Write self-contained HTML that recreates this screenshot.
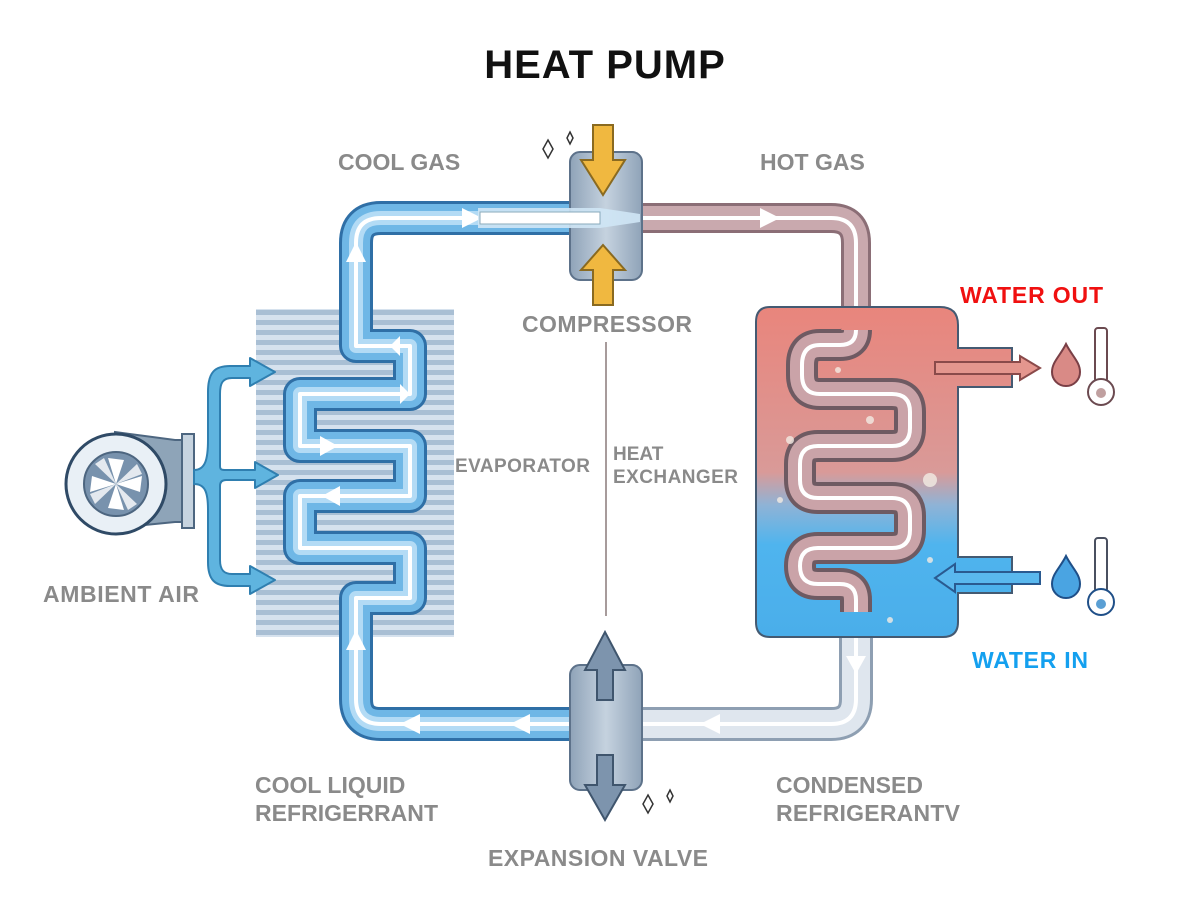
<!DOCTYPE html>
<html><head><meta charset="utf-8"><style>
html,body{margin:0;padding:0;background:#fff;}
svg{display:block;}
text{font-family:"Liberation Sans",sans-serif;font-weight:bold;}
</style></head><body>
<svg width="1200" height="915" viewBox="0 0 1200 915" xmlns="http://www.w3.org/2000/svg">
<defs>
<linearGradient id="tank" x1="0" y1="0" x2="0" y2="1">
<stop offset="0" stop-color="#e9857c"/><stop offset="0.5" stop-color="#d99a98"/><stop offset="0.6" stop-color="#8fb3d6"/><stop offset="0.72" stop-color="#4fb4ee"/><stop offset="1" stop-color="#4aaeea"/>
</linearGradient>
<linearGradient id="cyl" x1="0" y1="0" x2="1" y2="0">
<stop offset="0" stop-color="#8fa3b8"/><stop offset="0.5" stop-color="#c5d2df"/><stop offset="1" stop-color="#8fa3b8"/>
</linearGradient>
<pattern id="fins" width="10" height="10" patternUnits="userSpaceOnUse">
<rect width="10" height="10" fill="#d6e2ee"/><rect y="0" width="10" height="5" fill="#a9bfd4"/>
</pattern>
</defs>

<text x="605" y="78" text-anchor="middle" font-size="40" fill="#111" style="font-weight:900;letter-spacing:1px">HEAT PUMP</text>

<rect x="256" y="309" width="198" height="328" fill="url(#fins)"/>

<!-- fan -->
<path d="M115,432 L175,440 L188,440 L188,522 L175,522 L115,528 Z" fill="#8ea4b8" stroke="#4d6680" stroke-width="2"/>
<rect x="182" y="434" width="12" height="94" fill="#c6d3df" stroke="#4d6680" stroke-width="2"/>
<circle cx="116" cy="484" r="50" fill="#e9f0f6" stroke="#2f4a66" stroke-width="3"/>
<circle cx="116" cy="484" r="32" fill="#7892ad" stroke="#4d6680" stroke-width="2"/>
<g fill="#fff">
<path d="M116,484 L108,458 L124,460 Z"/><path d="M116,484 L142,476 L140,492 Z"/><path d="M116,484 L124,510 L108,508 Z"/><path d="M116,484 L90,492 L92,476 Z"/>
<path d="M116,484 L137,464 L142,474 Z" opacity=".8"/><path d="M116,484 L95,504 L90,494 Z" opacity=".8"/>
<path d="M116,484 L137,504 L128,510 Z" opacity=".8"/><path d="M116,484 L95,464 L104,458 Z" opacity=".8"/>
</g>
<g fill="#5fb4df" stroke="#2f7fb0" stroke-width="2" stroke-linejoin="round">
<path d="M194,470 C205,470 208,460 208,440 L208,392 C208,372 215,366 230,366 L250,366 L250,358 L275,372 L250,386 L250,378 L232,378 C222,378 220,384 220,394 L220,466 C220,470 222,470 226,470 L255,470 L255,462 L278,475 L255,488 L255,480 L226,480 C222,480 220,482 220,486 L220,560 C220,570 224,574 232,574 L250,574 L250,566 L275,580 L250,594 L250,586 L230,586 C215,586 208,580 208,562 L208,510 C208,492 205,484 194,484 Z"/>
</g>

<g fill="none" stroke-linejoin="round" stroke-linecap="butt">
<!-- right & bottom-right gray -->
<path d="M856,610 V699 Q856,724 831,724 H600" stroke="#8e9fb2" stroke-width="34"/>
<path d="M856,610 V699 Q856,724 831,724 H600" stroke="#dfe6ee" stroke-width="28"/>
<path d="M856,610 V699 Q856,724 831,724 H600" stroke="#fff" stroke-width="4"/>
<!-- evaporator loop -->
<path d="M600,724 H381 Q356,724 356,699 V598 H410 V548 H300 V496 H410 V446 H300 V394 H410 V346 H356 V243 Q356,218 381,218 H600" stroke="#2f6fa6" stroke-width="34"/>
<path d="M600,724 H381 Q356,724 356,699 V598 H410 V548 H300 V496 H410 V446 H300 V394 H410 V346 H356 V243 Q356,218 381,218 H600" stroke="#6fb7e6" stroke-width="28"/>
<path d="M600,724 H381 Q356,724 356,699 V598 H410 V548 H300 V496 H410 V446 H300 V394 H410 V346 H356 V243 Q356,218 381,218 H600" stroke="#b3dbf5" stroke-width="14"/>
<path d="M600,724 H381 Q356,724 356,699 V598 H410 V548 H300 V496 H410 V446 H300 V394 H410 V346 H356 V243 Q356,218 381,218 H600" stroke="#fff" stroke-width="4"/>
<!-- top hot -->
<path d="M600,218 H831 Q856,218 856,243 V330" stroke="#8b6e76" stroke-width="30"/>
<path d="M600,218 H831 Q856,218 856,243 V330" stroke="#c9a9ae" stroke-width="24"/>
<path d="M600,218 H831 Q856,218 856,243 V330" stroke="#fff" stroke-width="4"/>
</g>
<g fill="#fff">
<polygon points="462,208 482,218 462,228"/><polygon points="760,208 780,218 760,228"/>
<polygon points="846,312 856,330 866,312"/><polygon points="346,262 356,242 366,262"/>
<polygon points="346,650 356,630 366,650"/><polygon points="420,714 400,724 420,734"/>
<polygon points="530,714 510,724 530,734"/><polygon points="720,714 700,724 720,734"/>
<polygon points="846,656 856,674 866,656"/>
<polygon points="340,486 322,496 340,506"/><polygon points="320,436 338,446 320,456"/>
<polygon points="400,336 390,346 400,356"/><polygon points="400,384 410,394 400,404"/>
</g>

<!-- tank -->
<path d="M770,307 H940 Q958,307 958,325 V348 H1012 V387 H958 V557 H1012 V593 H958 V622 Q958,637 943,637 H770 Q756,637 756,622 V322 Q756,307 770,307 Z" fill="url(#tank)" stroke="#445a72" stroke-width="2"/>
<path d="M935,362 H1020 V356 L1040,368 L1020,380 V374 H935 Z" fill="#e4968e" stroke="#8a4a4a" stroke-width="2"/>
<path d="M1040,572 H955 V564 L935,578 L955,592 V584 H1040 Z" fill="#5ab8ee" stroke="#2a5a90" stroke-width="2"/>
<g fill="none" stroke-linejoin="round">
<path d="M856,330 Q856,345 840,345 H820 Q802,345 802,365 V375 Q802,394 820,394 H892 Q910,394 910,412 V428 Q910,446 892,446 H818 Q800,446 800,464 V480 Q800,498 818,498 H892 Q910,498 910,516 V530 Q910,548 892,548 H818 Q800,548 800,566 Q800,584 818,584 H840 Q856,584 856,600 V612" stroke="#6e5a62" stroke-width="32"/>
<path d="M856,330 Q856,345 840,345 H820 Q802,345 802,365 V375 Q802,394 820,394 H892 Q910,394 910,412 V428 Q910,446 892,446 H818 Q800,446 800,464 V480 Q800,498 818,498 H892 Q910,498 910,516 V530 Q910,548 892,548 H818 Q800,548 800,566 Q800,584 818,584 H840 Q856,584 856,600 V612" stroke="#caa3a8" stroke-width="24"/>
<path d="M856,330 Q856,345 840,345 H820 Q802,345 802,365 V375 Q802,394 820,394 H892 Q910,394 910,412 V428 Q910,446 892,446 H818 Q800,446 800,464 V480 Q800,498 818,498 H892 Q910,498 910,516 V530 Q910,548 892,548 H818 Q800,548 800,566 Q800,584 818,584 H840 Q856,584 856,600 V612" stroke="#fff" stroke-width="4"/>
</g>
<g fill="#f3ece4" opacity=".8"><circle cx="790" cy="440" r="4"/><circle cx="838" cy="370" r="3"/><circle cx="870" cy="420" r="4"/><circle cx="780" cy="500" r="3"/><circle cx="930" cy="480" r="7"/><circle cx="890" cy="620" r="3"/><circle cx="930" cy="560" r="3"/></g>

<path d="M1066,344 C1060,356 1052,362 1052,372 A14,14 0 0 0 1080,372 C1080,362 1072,356 1066,344 Z" fill="#d98a86" stroke="#7a3f46" stroke-width="2"/>
<rect x="1095" y="328" width="12" height="54" rx="3" fill="#fff" stroke="#6b4a50" stroke-width="2"/>
<circle cx="1101" cy="392" r="13" fill="#fff" stroke="#6b4a50" stroke-width="2"/><circle cx="1101" cy="393" r="5" fill="#c0a0a0"/>
<path d="M1066,556 C1060,568 1052,574 1052,584 A14,14 0 0 0 1080,584 C1080,574 1072,568 1066,556 Z" fill="#4aa4e2" stroke="#1f4f88" stroke-width="2"/>
<rect x="1095" y="538" width="12" height="54" rx="3" fill="#fff" stroke="#4a5060" stroke-width="2"/>
<circle cx="1101" cy="602" r="13" fill="#fff" stroke="#1f4f88" stroke-width="2"/><circle cx="1101" cy="604" r="5" fill="#5a9fd4"/>

<!-- compressor -->
<rect x="570" y="152" width="72" height="128" rx="10" fill="url(#cyl)" stroke="#5d728a" stroke-width="2"/>
<path d="M478,208 L600,208 L640,214 L640,222 L600,228 L478,228 Z" fill="#cfe5f5" opacity=".9"/>
<rect x="480" y="212" width="120" height="12" fill="#fff" stroke="#8ab" stroke-width="1"/>
<path d="M593,125 H613 V160 H625 L603,195 L581,160 H593 Z" fill="#f0b840" stroke="#8a6a20" stroke-width="2"/>
<path d="M593,305 H613 V270 H625 L603,245 L581,270 H593 Z" fill="#f0b840" stroke="#8a6a20" stroke-width="2"/>
<path d="M548,140 l5,9 l-5,9 l-5,-9 Z M570,132 l3,6 l-3,6 l-3,-6 Z" fill="none" stroke="#333" stroke-width="1.5"/>

<!-- expansion valve -->
<rect x="570" y="665" width="72" height="125" rx="10" fill="url(#cyl)" stroke="#5d728a" stroke-width="2"/>
<path d="M597,700 H613 V670 H625 L605,632 L585,670 H597 Z" fill="#7d94ad" stroke="#3f556d" stroke-width="2"/>
<path d="M597,755 H613 V785 H625 L605,820 L585,785 H597 Z" fill="#7d94ad" stroke="#3f556d" stroke-width="2"/>
<path d="M648,795 l5,9 l-5,9 l-5,-9 Z M670,790 l3,6 l-3,6 l-3,-6 Z" fill="none" stroke="#333" stroke-width="1.5"/>

<line x1="606" y1="342" x2="606" y2="616" stroke="#8a7a7a" stroke-width="1.5"/>

<g fill="#8a8a8a">
<text x="338" y="170" font-size="23">COOL GAS</text>
<text x="760" y="170" font-size="23">HOT GAS</text>
<text x="522" y="332" font-size="23" textLength="170">COMPRESSOR</text>
<text x="455" y="472" font-size="19" textLength="135">EVAPORATOR</text>
<text x="613" y="460" font-size="19">HEAT</text>
<text x="613" y="483" font-size="19" textLength="125">EXCHANGER</text>
<text x="43" y="602" font-size="23" textLength="156">AMBIENT AIR</text>
<text x="255" y="793" font-size="23">COOL LIQUID</text>
<text x="255" y="821" font-size="23" textLength="183">REFRIGERRANT</text>
<text x="776" y="793" font-size="23">CONDENSED</text>
<text x="776" y="821" font-size="23" textLength="184">REFRIGERANTV</text>
<text x="488" y="866" font-size="23" textLength="220">EXPANSION VALVE</text>
</g>
<text x="960" y="303" font-size="23" fill="#f01010" textLength="143">WATER OUT</text>
<text x="972" y="668" font-size="23" fill="#14a0ef" textLength="116">WATER IN</text>
</svg>
</body></html>
